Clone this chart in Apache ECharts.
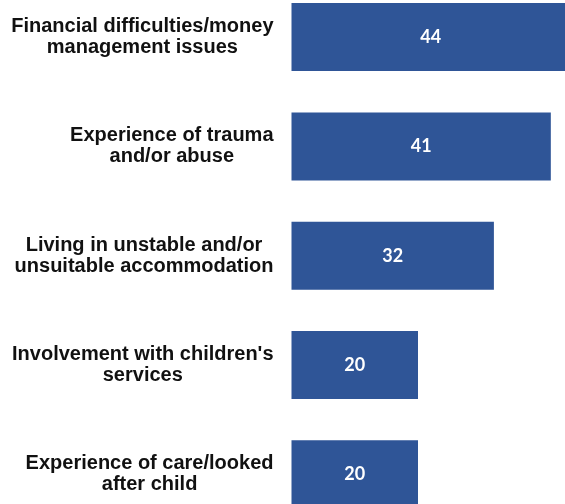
<!DOCTYPE html>
<html>
<head>
<meta charset="utf-8">
<script src="https://cdn.jsdelivr.net/npm/echarts@6/dist/echarts.min.js"></script>
<style>
html,body{margin:0;padding:0;background:#fff;}
#chart{width:565px;height:504px;}
</style>
</head>
<body>
<div id="chart"></div>
<script>
const categories = [
  "Financial difficulties/money\nmanagement issues",
  "Experience of trauma\nand/or abuse",
  "Living in unstable and/or\nunsuitable accommodation",
  "Involvement with children's\nservices",
  "Experience of care/looked\nafter child"
];
const values = [44, 41, 32, 20, 20];
const axisMax = 44;

const chart = echarts.init(document.getElementById('chart'), null, {renderer: 'canvas'});
chart.setOption({
  animation: false,
  backgroundColor: '#ffffff',
  grid: {
    left: 291.5,
    right: -4.8,
    top: -17.6,
    bottom: -25,
    containLabel: false,
    outerBoundsMode: 'none'
  },
  xAxis: {
    type: 'value',
    min: 0,
    max: axisMax,
    show: false
  },
  yAxis: {
    type: 'category',
    inverse: true,
    data: categories,
    axisLine: {show: false},
    axisTick: {show: false},
    splitLine: {show: false},
    axisLabel: {
      margin: 18,
      align: 'right',
      formatter: function (v) {
        return v.split('\n').map(function (l) { return '{c|' + l + '}'; }).join('\n');
      },
      rich: {
        c: {
          align: 'center',
          fontFamily: '"Liberation Sans", Arial, sans-serif',
          fontWeight: 'bold',
          fontSize: 20,
          lineHeight: 21,
          color: '#111111'
        }
      }
    }
  },
  series: [{
    type: 'bar',
    data: values,
    barWidth: 68,
    itemStyle: {color: '#2F5597'},
    label: {
      show: true,
      position: 'inside',
      color: '#ffffff',
      fontFamily: 'Lato, "Open Sans", sans-serif',
      fontWeight: 'bold',
      fontSize: 18
    }
  }]
});
</script>
</body>
</html>
